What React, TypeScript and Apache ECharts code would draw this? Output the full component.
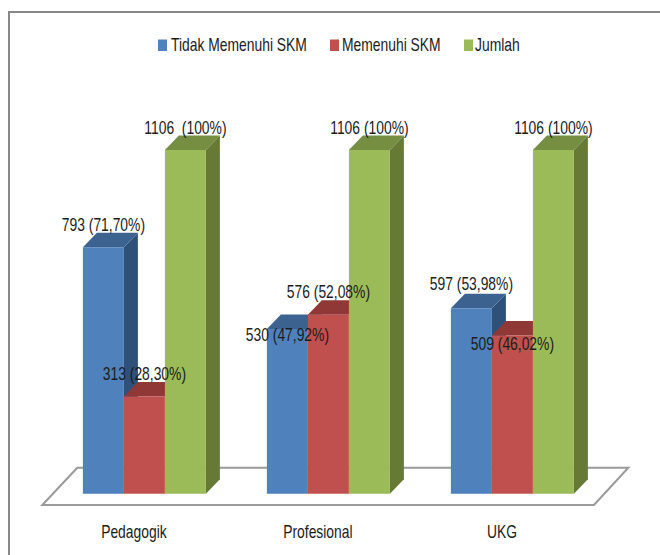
import React, { useEffect, useRef } from "react";
import * as echarts from "echarts";

const categories = ["Pedagogik", "Profesional", "UKG"];
const seriesNames = ["Tidak Memenuhi SKM", "Memenuhi SKM", "Jumlah"];
const tidakValues = [793, 530, 597];
const memenuhiValues = [313, 576, 509];
const jumlahValues = [1106, 1106, 1106];
const tidakLabels = ["793 (71,70%)", "530 (47,92%)", "597 (53,98%)"];
const memenuhiLabels = ["313 (28,30%)", "576 (52,08%)", "509 (46,02%)"];
const jumlahLabels = ["1106  (100%)", "1106 (100%)", "1106 (100%)"];
// vertical label placement relative to the bar's front top edge
const tidakLabelDy = [-23, 5.5, -24];
const memenuhiLabelDy = [-23, -23, 8.5];
const jumlahLabelDy = [-22, -22, -22];

const FONT = "'Liberation Sans', sans-serif";
const FONT_CSS = `19px ${FONT}`;
const NARROW = 0.73;
const TEXT_COLOR = "#1c1c1c";
const DEPTH_X = 14;
const DEPTH_Y = 14.5;
const BAR_FRACTION = 41 / 184;
const COLORS = ["#4f81bd", "#c0504d", "#9bbb59"];

function bar3d(
  name: string,
  values: number[],
  labels: string[],
  dys: number[],
  slot: number,
  front: string,
  top: string,
  side: string
) {
  return {
    type: "custom",
    name,
    itemStyle: { color: front },
    data: values.map((v, i) => [i, v]),
    renderItem: (params: any, api: any) => {
      const i = api.value(0);
      const val = api.value(1);
      const base = api.coord([i, 0]);
      const peak = api.coord([i, val]);
      const w = api.size([1, 0])[0] * BAR_FRACTION;
      const x0 = base[0] + (slot - 1.5) * w;
      const x1 = x0 + w;
      const y0 = base[1];
      const y1 = peak[1];
      return {
        type: "group",
        children: [
          {
            type: "polygon",
            shape: { points: [[x1, y1], [x1 + DEPTH_X, y1 - DEPTH_Y], [x1 + DEPTH_X, y0 - DEPTH_Y], [x1, y0]] },
            style: { fill: side },
          },
          {
            type: "polygon",
            shape: { points: [[x0, y1], [x0 + DEPTH_X, y1 - DEPTH_Y], [x1 + DEPTH_X, y1 - DEPTH_Y], [x1, y1]] },
            style: { fill: top },
          },
          {
            type: "rect",
            shape: { x: x0, y: y1, width: w, height: y0 - y1 },
            style: { fill: front },
          },
          {
            type: "text",
            z2: 100,
            x: (x0 + x1) / 2,
            y: y1 + dys[i],
            scaleX: NARROW,
            style: {
              x: 0,
              y: 0,
              text: labels[i],
              align: "center",
              verticalAlign: "middle",
              fill: TEXT_COLOR,
              font: FONT_CSS,
            },
          },
        ],
      };
    },
  };
}

const categoryLabels = {
  type: "custom",
  name: "categoryLabels",
  silent: true,
  data: categories.map((_, i) => [i, 0]),
  renderItem: (params: any, api: any) => {
    const i = api.value(0);
    const p = api.coord([i, 0]);
    return {
      type: "text",
      x: p[0] - 10.5,
      y: p[1] + 38,
      scaleX: NARROW,
      style: {
        x: 0,
        y: 0,
        text: categories[i],
        align: "center",
        verticalAlign: "middle",
        fill: TEXT_COLOR,
        font: FONT_CSS,
      },
    };
  },
};

const legendSwatchX = [158, 330, 464];
const legendTextX = [171, 342, 475];

const legendGraphics = seriesNames.flatMap((name, i) => [
  {
    type: "rect",
    silent: true,
    shape: { x: legendSwatchX[i], y: 39.5, width: 9, height: 11.5 },
    style: { fill: COLORS[i] },
  },
  {
    type: "text",
    silent: true,
    x: legendTextX[i],
    y: 45,
    scaleX: NARROW,
    style: {
      x: 0,
      y: 0,
      text: name,
      align: "left",
      verticalAlign: "middle",
      fill: TEXT_COLOR,
      font: FONT_CSS,
    },
  },
]);

export default function App() {
  const ref = useRef<HTMLDivElement>(null);
  useEffect(() => {
    document.body.style.margin = "0";
    const chart = echarts.init(ref.current!, undefined, { renderer: "svg" });
    chart.setOption({
      animation: false,
      backgroundColor: "#ffffff",
      grid: { left: 52.4, right: 55.6, top: 120.8, bottom: 61.3 },
      xAxis: {
        type: "category",
        data: categories,
        axisLine: { show: false },
        axisTick: { show: false },
        axisLabel: { show: false },
      },
      yAxis: { type: "value", min: 0, max: 1200, show: false },
      graphic: [
        {
          type: "polyline",
          silent: true,
          z: 0,
          shape: { points: [[9, 555], [9, 12], [660, 12]] },
          style: { stroke: "#888888", lineWidth: 2, fill: "none" },
        },
        {
          type: "polygon",
          silent: true,
          z: 0,
          shape: { points: [[77.3, 467.7], [42.3, 505], [594, 505], [628.3, 467.7]] },
          style: { stroke: "#9a9a9a", lineWidth: 2, fill: "#ffffff" },
        },
        ...legendGraphics,
      ],
      series: [
        bar3d(seriesNames[0], tidakValues, tidakLabels, tidakLabelDy, 0, COLORS[0], "#3c6290", "#2f5079"),
        bar3d(seriesNames[1], memenuhiValues, memenuhiLabels, memenuhiLabelDy, 1, COLORS[1], "#8f3836", "#7d312f"),
        bar3d(seriesNames[2], jumlahValues, jumlahLabels, jumlahLabelDy, 2, COLORS[2], "#758e42", "#667a35"),
        categoryLabels,
      ],
    });
    return () => chart.dispose();
  }, []);
  return <div ref={ref} style={{ width: 660, height: 555 }} />;
}
